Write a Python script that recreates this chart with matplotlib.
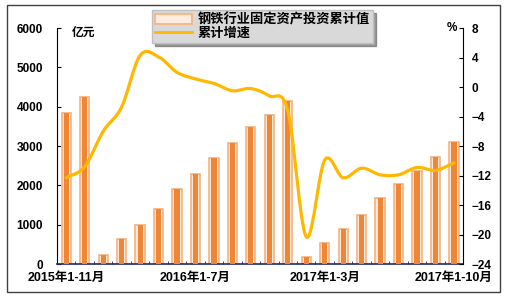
import numpy as np
import matplotlib.pyplot as plt
from matplotlib.patches import Rectangle, Patch
from matplotlib.lines import Line2D

plt.rcParams['font.family'] = ['Liberation Sans', 'Noto Sans CJK SC']

months = ['2015年1-11月', '2015年1-12月',
          '2016年1-2月', '2016年1-3月', '2016年1-4月', '2016年1-5月', '2016年1-6月',
          '2016年1-7月', '2016年1-8月', '2016年1-9月', '2016年1-10月', '2016年1-11月',
          '2016年1-12月',
          '2017年1-2月', '2017年1-3月', '2017年1-4月', '2017年1-5月', '2017年1-6月',
          '2017年1-7月', '2017年1-8月', '2017年1-9月', '2017年1-10月']
invest = [3840, 4250, 230, 640, 1000, 1400, 1910, 2290, 2690, 3080, 3490, 3790,
          4150, 180, 540, 890, 1250, 1680, 2030, 2370, 2720, 3100]
growth = [-12.3, -10.8, -6.0, -2.7, 4.3, 4.1, 2.0, 1.1, 0.5, -0.5, -0.2, -1.2,
          -3.2, -20.3, -9.9, -12.3, -11.0, -11.9, -11.9, -10.9, -11.3, -10.3]
shown_labels = ['2015年1-11月', '2016年1-7月', '2017年1-3月', '2017年1-10月']

bar_dark = '#EF8636'
bar_light = '#F4B27E'
line_col = '#FFB800'
navy = '#1F2A6E'


def smooth(x, y, n=24):
    # Catmull-Rom curve through the points, like Excel's smoothed line
    x = np.asarray(x, float)
    y = np.asarray(y, float)
    px = np.concatenate([[2 * x[0] - x[1]], x, [2 * x[-1] - x[-2]]])
    py = np.concatenate([[2 * y[0] - y[1]], y, [2 * y[-1] - y[-2]]])
    xs, ys = [], []
    t = np.linspace(0, 1, n, endpoint=False)
    for i in range(1, len(px) - 2):
        for p, out in ((px, xs), (py, ys)):
            p0, p1, p2, p3 = p[i - 1], p[i], p[i + 1], p[i + 2]
            out.extend(0.5 * (2 * p1 + (-p0 + p2) * t + (2 * p0 - 5 * p1 + 4 * p2 - p3) * t ** 2
                              + (-p0 + 3 * p1 - 3 * p2 + p3) * t ** 3))
    xs.append(x[-1])
    ys.append(y[-1])
    return np.array(xs), np.array(ys)


fig = plt.figure(figsize=(5.09, 2.99), dpi=100)
ax = fig.add_axes([0.112, 0.117, 0.798, 0.789])
x = np.arange(len(months))

ax.bar(x, invest, width=0.5, color='#FDEBDD', edgecolor=bar_light, linewidth=1.2, zorder=2)
ax.bar(x, invest, width=0.28, color=bar_dark, linewidth=0, zorder=3)
ax.set_xlim(-0.5, len(months) - 0.5)
ax.set_ylim(0, 6000)
ax.set_yticks(np.arange(0, 6001, 1000))
ax.tick_params(axis='y', direction='in', length=3, labelsize=8.5, pad=10)
for lab in ax.get_yticklabels():
    lab.set_fontweight('bold')

ax.set_xticks(np.arange(-0.5, len(months), 1), minor=True)
ax.set_xticks([months.index(m) for m in shown_labels])
ax.set_xticklabels(shown_labels, fontsize=9, fontweight='bold')
ax.tick_params(axis='x', which='major', length=0, pad=6)
ax.tick_params(axis='x', which='minor', direction='in', length=2.5, color=navy)
for s in ['top', 'right']:
    ax.spines[s].set_visible(False)
ax.spines['bottom'].set_color(navy)
ax.spines['bottom'].set_linewidth(1.2)
ax.text(0.3, 5880, '亿元', fontsize=8.5, fontweight='bold', va='center', ha='left')

ax2 = ax.twinx()
sx, sy = smooth(x, growth)
ax2.plot(sx, sy, color=line_col, linewidth=2.3, solid_capstyle='round', zorder=4)
ax2.set_ylim(-24, 8)
ax2.set_yticks(np.arange(-24, 9, 4))
ax2.tick_params(axis='y', direction='in', length=3, labelsize=8.5, pad=6)
for lab in ax2.get_yticklabels():
    lab.set_fontweight('bold')
for s in ['top', 'left', 'bottom']:
    ax2.spines[s].set_visible(False)
ax2.text(21.15, 8, '%', fontsize=8.5, fontweight='bold', va='center', ha='right')

handles = [Patch(facecolor='#FDEBDD', edgecolor=bar_light, linewidth=1.2),
           Line2D([], [], color=line_col, linewidth=2)]
leg = ax2.legend(handles, ['钢铁行业固定资产投资累计值', '累计增速'],
                 loc='upper left', bbox_to_anchor=(152 / 509, 1 - 10 / 299),
                 bbox_transform=fig.transFigure, borderaxespad=0, fontsize=9.5, frameon=True,
                 fancybox=False, shadow=True, facecolor='#D9D9D9', edgecolor='#C0C0C0',
                 borderpad=0.25, labelspacing=0.05, handlelength=2.8, handletextpad=0.4,
                 framealpha=1)
for t in leg.get_texts():
    t.set_fontweight('bold')

fig.patches.append(Rectangle((7 / 509, 7 / 299), 493 / 509, 287 / 299, transform=fig.transFigure,
                             fill=False, edgecolor='#404040', linewidth=1))

fig.savefig('out.png', dpi=100)
